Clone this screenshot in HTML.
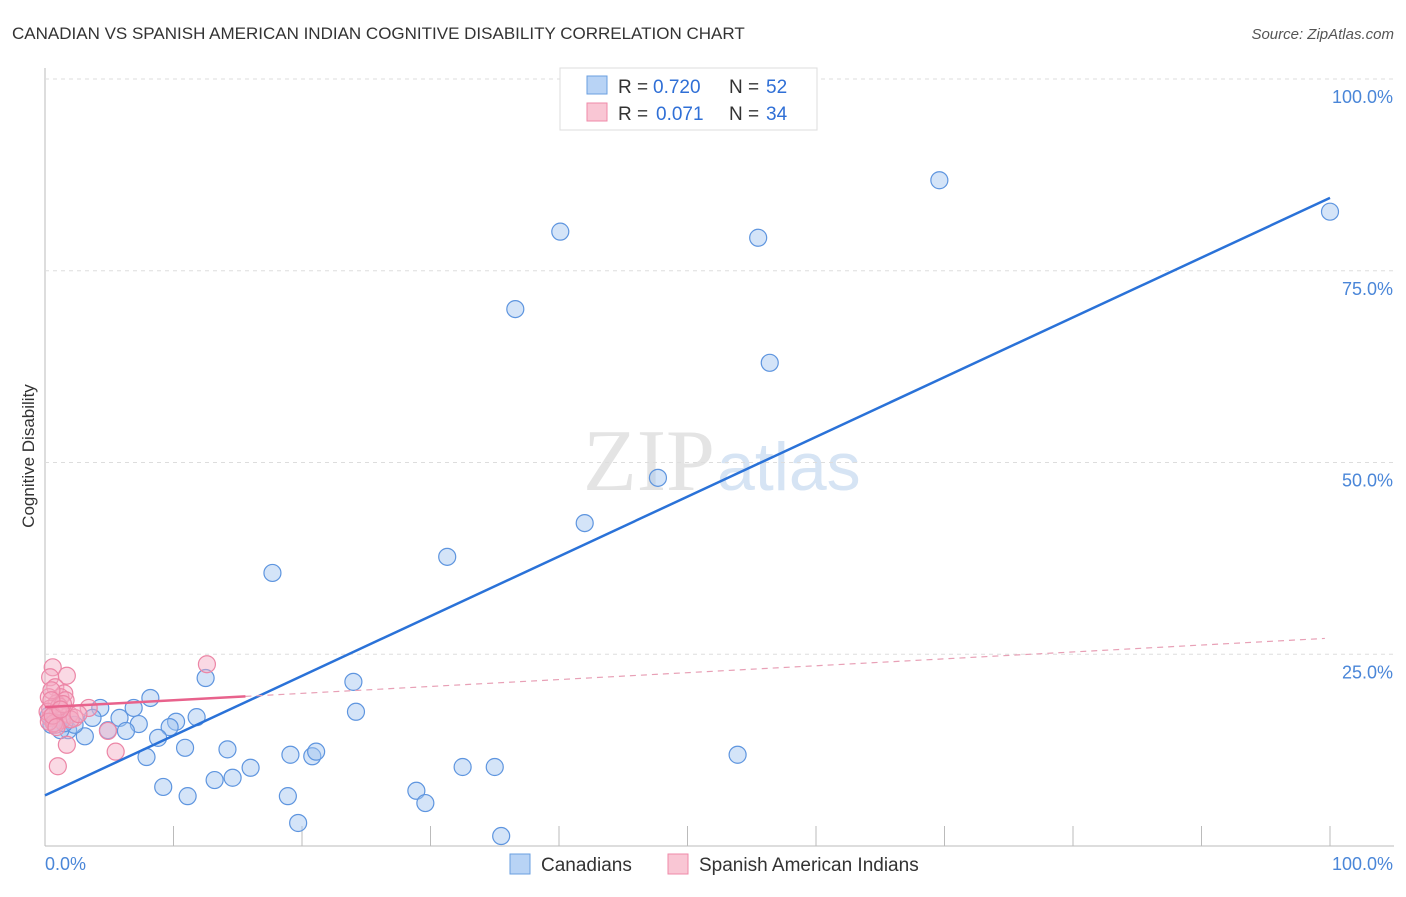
<!DOCTYPE html>
<html><head><meta charset="utf-8"><style>
body{margin:0;background:#fff;font-family:"Liberation Sans",sans-serif}
</style></head><body>
<svg id="c" width="1406" height="892" xmlns="http://www.w3.org/2000/svg">
<text x="12" y="39" font-size="17" fill="#333">CANADIAN VS SPANISH AMERICAN INDIAN COGNITIVE DISABILITY CORRELATION CHART</text>
<text x="1394" y="39" font-size="15" fill="#555" font-style="italic" text-anchor="end">Source: ZipAtlas.com</text>
<text x="34" y="456" font-size="17" fill="#333" text-anchor="middle" transform="rotate(-90 34 456)">Cognitive Disability</text>
<text x="715" y="490" font-size="88" fill="#e4e4e4" text-anchor="end" font-family="Liberation Serif,serif">ZIP</text>
<text x="717" y="490" font-size="68" fill="#d6e4f4">atlas</text>
<g id="grid"></g><g id="marks"></g><g id="lines"></g>
<g>
<rect x="560" y="68" width="257" height="62" fill="#fff" stroke="#ddd"/>
<rect x="587" y="76" width="20" height="18" fill="#b8d3f5" stroke="#6a9fe0"/>
<rect x="587" y="103" width="20" height="18" fill="#f9c6d4" stroke="#ef8aa8"/>
<text x="618" y="93" font-size="19" fill="#333">R =</text>
<text x="653" y="93" font-size="19" fill="#2f6fd6">0.720</text>
<text x="729" y="93" font-size="19" fill="#333">N =</text>
<text x="766" y="93" font-size="19" fill="#2f6fd6">52</text>
<text x="618" y="120" font-size="19" fill="#333">R =</text>
<text x="656" y="120" font-size="19" fill="#2f6fd6">0.071</text>
<text x="729" y="120" font-size="19" fill="#333">N =</text>
<text x="766" y="120" font-size="19" fill="#2f6fd6">34</text>
</g>
<g>
<rect x="510" y="854" width="20" height="20" fill="#b8d3f5" stroke="#6a9fe0"/>
<text x="541" y="871" font-size="19" fill="#333">Canadians</text>
<rect x="668" y="854" width="20" height="20" fill="#f9c6d4" stroke="#ef8aa8"/>
<text x="699" y="871" font-size="19" fill="#333">Spanish American Indians</text>
</g>
</svg>
<script>
const blueX=[100,69.6,40.1,55.5,36.6,56.4,47.7,42.0,31.3,17.7,12.5,24.0,24.2,8.2,6.9,4.3,11.8,10.2,7.3,5.8,3.7,4.9,6.3,1.8,1.2,3.1,9.7,8.8,10.9,14.2,7.9,19.1,20.8,21.1,53.9,16.0,14.6,13.2,32.5,35.0,9.2,11.1,18.9,28.9,29.6,19.7,35.5,0.8,0.5,2.3,0.3,1.5];
const blueY=[82.7,86.8,80.1,79.3,70.0,63.0,48.0,42.1,37.7,35.6,21.9,21.4,17.5,19.3,18.0,18.0,16.8,16.2,15.9,16.7,16.7,15.1,15.0,15.1,15.1,14.3,15.5,14.1,12.8,12.6,11.6,11.9,11.7,12.3,11.9,10.2,8.9,8.6,10.3,10.3,7.7,6.5,6.5,7.2,5.6,3.0,1.3,16.7,15.8,15.8,17.0,16.0];
const pinkX=[12.6,0.6,1.7,0.4,0.8,1.5,1.2,0.3,0.9,0.4,3.4,1.0,1.9,0.4,1.3,2.3,0.8,4.9,1.7,5.5,1.0,0.2,0.5,1.6,0.7,1.1,2.0,0.3,0.6,1.4,0.9,2.6,0.5,1.2];
const pinkY=[23.7,23.3,22.2,22.0,20.7,19.9,19.4,19.4,18.6,17.9,18.0,17.3,17.1,16.7,16.4,16.7,15.8,15.0,13.2,12.3,10.4,17.5,20.3,19.0,16.0,18.2,16.5,16.2,17.0,18.5,15.5,17.2,19.0,17.8];
const yTicks=[25,50,75,100];
const xTickVals=[0,10,20,30,40,50,60,70,80,90,100];
const blueFit=[6.6,84.5];
const pinkFit=[18.1,27.1];
const pinkSolidEnd=15.6;
const X=v=>45+v*12.85, Y=v=>846-v*7.67;
const ns="http://www.w3.org/2000/svg";
function mk(tag,attrs,parent){const e=document.createElementNS(ns,tag);for(const k in attrs)e.setAttribute(k,attrs[k]);parent.appendChild(e);return e;}
const g=document.getElementById('grid'),m=document.getElementById('marks'),l=document.getElementById('lines');
let ax=mk('line',{x1:45,y1:68,x2:45,y2:846,stroke:'#bbb'},g);


let bx=mk('line',{x1:45,y1:846,x2:1394,y2:846,stroke:'#bbb'},g);


yTicks.forEach(t=>{
 let ln=mk('line',{x1:45,y1:Y(t),x2:1394,y2:Y(t),stroke:'#ddd','stroke-dasharray':'4 4'},g);
 
 
 let tx=mk('text',{x:1393,y:Y(t)+24,'font-size':18,fill:'#4a86d8','text-anchor':'end'},g);tx.textContent=t.toFixed(1)+'%';
 
 
});
xTickVals.forEach(t=>{if(t===0)return;
 let tk=mk('line',{x1:X(t),y1:826,x2:X(t),y2:846,stroke:'#bbb'},g);
 
 
});
let x0=mk('text',{x:45,y:870,'font-size':18,fill:'#4a86d8'},g);x0.textContent='0.0%';


let x1=mk('text',{x:1393,y:870,'font-size':18,fill:'#4a86d8','text-anchor':'end'},g);x1.textContent='100.0%';


blueX.forEach((v,i)=>{let c=mk('circle',{cx:X(v),cy:Y(blueY[i]),r:8.5,fill:'rgba(160,195,240,0.45)',stroke:'#5e95df','stroke-width':1.2},m);
 
 });
pinkX.forEach((v,i)=>{let c=mk('circle',{cx:X(v),cy:Y(pinkY[i]),r:8.5,fill:'rgba(245,170,195,0.45)',stroke:'#ec86a6','stroke-width':1.2},m);
 
 });
let bl=mk('line',{x1:X(0),y1:Y(blueFit[0]),x2:X(100),y2:Y(blueFit[1]),stroke:'#2a72d8','stroke-width':2.5},l);


const pAt=v=>pinkFit[0]+(pinkFit[1]-pinkFit[0])*v/100;
let pl=mk('line',{x1:X(0),y1:Y(pAt(0)),x2:X(pinkSolidEnd),y2:Y(pAt(pinkSolidEnd)),stroke:'#e8628c','stroke-width':2.5},l);


let pd=mk('line',{x1:X(pinkSolidEnd),y1:Y(pAt(pinkSolidEnd)),x2:X(99.6),y2:Y(pAt(99.6)),stroke:'#e8a0b6','stroke-width':1.2,'stroke-dasharray':'6 5'},l);


</script>
</body></html>
